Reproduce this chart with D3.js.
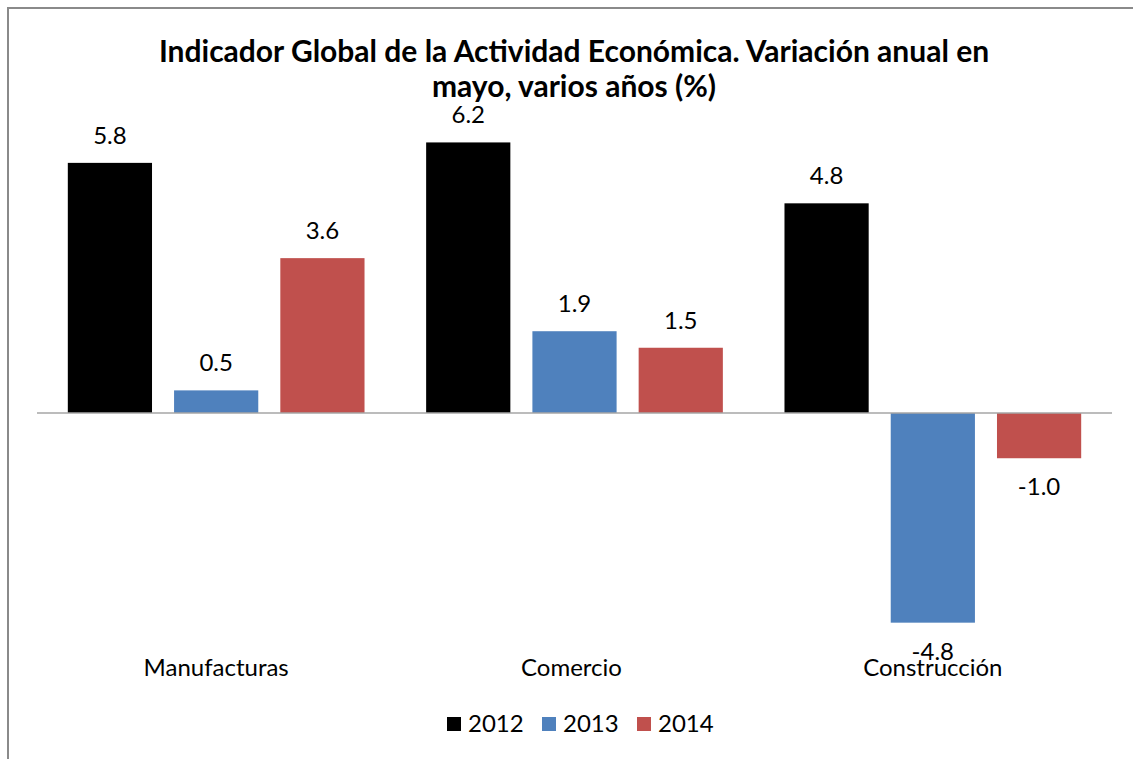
<!DOCTYPE html>
<html>
<head>
<meta charset="utf-8">
<script src="https://cdn.jsdelivr.net/npm/d3@7"></script>
<style>
  html, body { margin: 0; padding: 0; background: #fff; }
  svg { display: block; }
  text { font-family: Lato, "Open Sans", sans-serif; fill: #000; }
</style>
</head>
<body>
<svg id="chart" width="1133" height="759"></svg>
<script>
const titleLines = ["Indicador Global de la Actividad Económica. Variación anual en", "mayo, varios años (%)"];
const categories = ["Manufacturas", "Comercio", "Construcción"];
const seriesNames = ["2012", "2013", "2014"];
const values2012 = [5.75, 6.22, 4.82];
const values2013 = [0.52, 1.88, -4.82];
const values2014 = [3.56, 1.50, -1.04];
const seriesColors = ["#000000", "#4F81BD", "#C0504D"];

const seriesValues = [values2012, values2013, values2014];
const data = categories.map((c, i) => ({
  category: c,
  bars: seriesNames.map((s, j) => ({ series: s, value: seriesValues[j][i] }))
}));

const svg = d3.select("#chart");
const W = 1133, H = 759;

// frame (left and top edges visible)
svg.append("line").attr("x1", 7).attr("y1", 8).attr("x2", W).attr("y2", 8)
  .attr("stroke", "#8a8a8a").attr("stroke-width", 2);
svg.append("line").attr("x1", 8).attr("y1", 7).attr("x2", 8).attr("y2", H)
  .attr("stroke", "#8a8a8a").attr("stroke-width", 2);

const x0 = d3.scaleBand().domain(categories).range([37, 1112]).padding(0);
const x1 = d3.scaleBand().domain(seriesNames).range([0, x0.bandwidth()])
  .paddingInner(0.2075).paddingOuter(0.29);
const y = d3.scaleLinear().domain([-6, 7]).range([674, 108.5]);
const color = d3.scaleOrdinal().domain(seriesNames).range(seriesColors);
const fmt = d3.formatLocale({ decimal: ".", thousands: ",", grouping: [3], currency: ["", ""], minus: "-" }).format(".1f");

// title
const title = svg.append("text").attr("text-anchor", "middle")
  .style("font-weight", "bold").style("font-size", "30px");
titleLines.forEach((t, i) => {
  title.append("tspan").attr("x", 574).attr("y", 62 + i * 35).text(t);
});

// bars
const groups = svg.append("g").selectAll("g").data(data).join("g")
  .attr("transform", d => `translate(${x0(d.category)},0)`);

groups.selectAll("rect").data(d => d.bars).join("rect")
  .attr("x", d => x1(d.series))
  .attr("width", x1.bandwidth())
  .attr("y", d => y(Math.max(0, d.value)))
  .attr("height", d => Math.abs(y(d.value) - y(0)))
  .attr("fill", d => color(d.series));

// zero line
svg.append("line").attr("x1", 37).attr("x2", 1112).attr("y1", y(0)).attr("y2", y(0))
  .attr("stroke", "#a6a6a6").attr("stroke-width", 1.5);

// value labels
groups.selectAll("text.val").data(d => d.bars).join("text")
  .attr("class", "val")
  .attr("text-anchor", "middle")
  .style("font-size", "24px")
  .attr("x", d => x1(d.series) + x1.bandwidth() / 2)
  .attr("y", d => d.value >= 0 ? y(d.value) - 19 : y(d.value) + 37)
  .text(d => fmt(d.value));

// category labels
svg.append("g").selectAll("text").data(categories).join("text")
  .attr("text-anchor", "middle")
  .style("font-size", "24px")
  .attr("x", (d, i) => x0(d) + x0.bandwidth() / 2 - (i === 1 ? 3 : 0))
  .attr("y", 676)
  .text(d => d);

// legend
const legendX = [447, 542, 637];
const legend = svg.append("g").selectAll("g").data(seriesNames).join("g")
  .attr("transform", (d, i) => `translate(${legendX[i]},717)`);
legend.append("rect").attr("width", 14).attr("height", 14).attr("fill", d => color(d));
legend.append("text").attr("x", 21).attr("y", 14.5).style("font-size", "24px").text(d => d);
</script>
</body>
</html>
